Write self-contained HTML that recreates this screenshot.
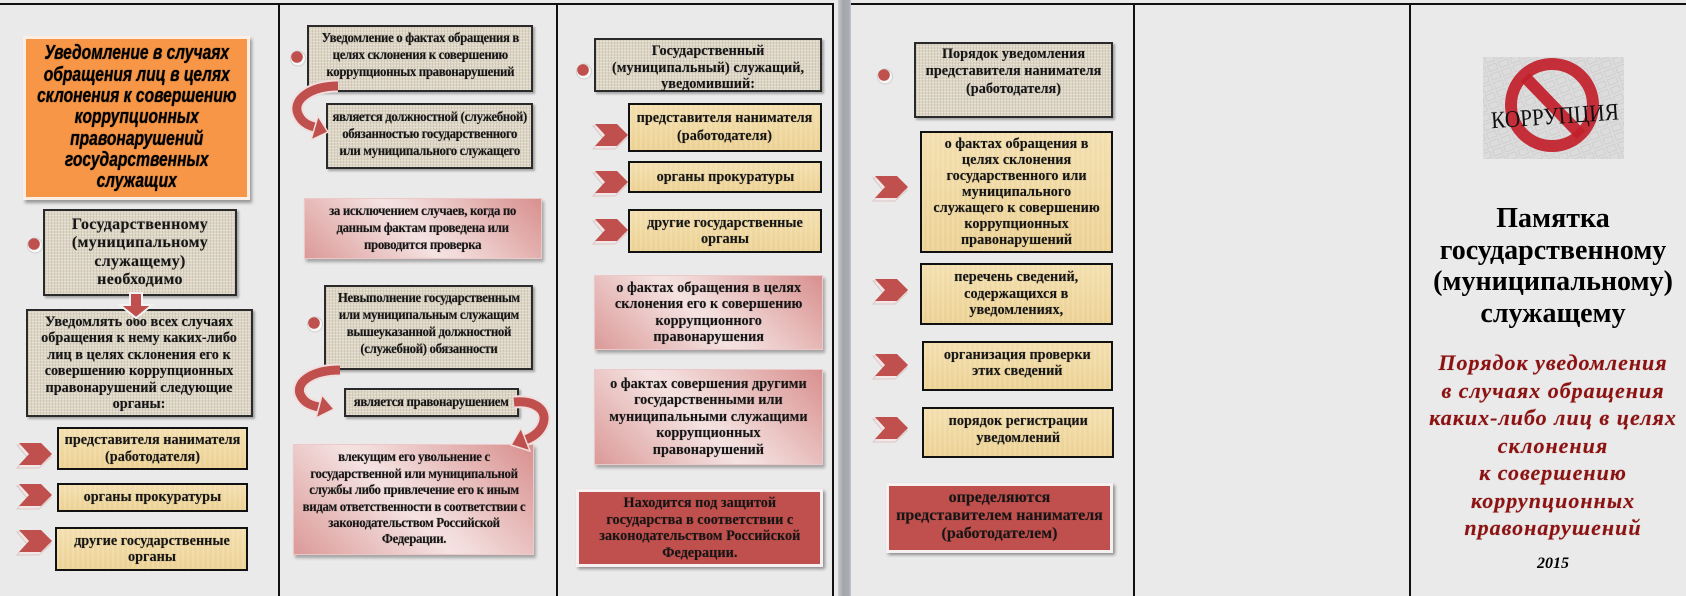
<!DOCTYPE html>
<html><head><meta charset="utf-8">
<style>
*{margin:0;padding:0}
body{width:1686px;height:596px;background:#eaeaea;position:relative;overflow:hidden;font-family:"Liberation Serif",serif}
.ln{position:absolute;background:#111}
.b{position:absolute;display:flex;align-items:center;justify-content:center;text-align:center;box-sizing:border-box;font-family:"Liberation Serif",serif;font-weight:bold;color:#151515;white-space:nowrap;text-shadow:0 0 1px rgba(0,0,0,.35)}
.t{display:inline-block}
.beige{background-color:#ddd5c5;background-image:repeating-linear-gradient(90deg,rgba(120,100,70,.13) 0 1px,transparent 1px 3px),repeating-linear-gradient(0deg,rgba(255,255,255,.28) 0 1px,transparent 1px 3px);border:2px solid #2a2a2a;box-shadow:2px 2px 2px rgba(0,0,0,.3)}
.yel{background-image:repeating-linear-gradient(90deg,rgba(255,255,255,.13) 0 2px,transparent 2px 5px),linear-gradient(180deg,#f3dfae,#ecd193);border:2px solid #111}
.pink{background:linear-gradient(225deg,#d8908e 0%,#f2dcdb 48%,#f4e2e1 55%,#db9a98 100%);border:1px solid #ecc9c8;box-shadow:2px 3px 3px rgba(0,0,0,.3)}
.red{background:#c0504d;border:3px solid #f6f0f0;box-shadow:2px 2px 3px rgba(0,0,0,.4)}
.s15{font-size:15px;letter-spacing:0;line-height:16.5px}
.s15 .t{transform:scaleX(.95)}
.c14{font-size:14px;letter-spacing:-.4px;line-height:17px}
.c14 .t{transform:scaleX(.92)}
</style></head><body>

<!-- frame lines -->
<div class="ln" style="left:0;top:3px;width:834px;height:2px"></div>
<div class="ln" style="left:851px;top:3px;width:835px;height:2px"></div>
<div class="ln" style="left:278px;top:3px;width:2px;height:593px"></div>
<div class="ln" style="left:556px;top:3px;width:2px;height:593px"></div>
<div class="ln" style="left:832px;top:3px;width:2px;height:593px"></div>
<div class="ln" style="left:1133px;top:3px;width:2px;height:593px"></div>
<div class="ln" style="left:1409px;top:3px;width:2px;height:593px"></div>
<div style="position:absolute;left:838px;top:0;width:13px;height:596px;background:linear-gradient(90deg,#c8cbcf,#a3a7ab 40%,#a9adb1 85%,#c4c7cb)"></div>

<!-- Column 1 -->
<div class="b" style="left:23px;top:36px;width:227px;height:164px;background:#f79646;border:3px solid #fbeee4;box-shadow:2px 3px 3px rgba(0,0,0,.35);font-family:'Liberation Sans',sans-serif;font-style:italic;font-weight:bold;font-size:20px;line-height:21.3px;color:#000;text-shadow:0 0 1px #000">
<div style="transform:scaleX(.78)">Уведомление в случаях<br>обращения лиц в целях<br>склонения к совершению<br>коррупционных<br>правонарушений<br>государственных<br>служащих</div></div>

<div class="b beige" style="left:43px;top:209px;width:194px;height:87px;font-size:16px;letter-spacing:.3px;line-height:18.5px">Государственному<br>(муниципальному<br>служащему)<br>необходимо</div>

<div class="b beige s15" style="left:26px;top:309px;width:227px;height:108px"><span class="t">Уведомлять обо всех случаях<br>обращения к нему каких-либо<br>лиц в целях склонения его к<br>совершению коррупционных<br>правонарушений следующие<br>органы:</span></div>

<div class="b yel s15" style="left:57px;top:427px;width:191px;height:43px"><span class="t">представителя нанимателя<br>(работодателя)</span></div>
<div class="b yel s15" style="left:57px;top:483px;width:191px;height:29px"><span class="t">органы прокуратуры</span></div>
<div class="b yel s15" style="left:55px;top:527px;width:193px;height:44px"><span class="t">другие государственные<br>органы</span></div>

<!-- Column 2 -->
<div class="b beige c14" style="left:307px;top:25px;width:226px;height:67px;padding-bottom:7px"><span class="t">Уведомление о фактах обращения в<br>целях склонения к совершению<br>коррупционных правонарушений</span></div>
<div class="b beige c14" style="left:326px;top:103px;width:207px;height:66px;padding-bottom:3px"><span class="t">является должностной (служебной)<br>обязанностью государственного<br>или муниципального служащего</span></div>
<div class="b pink c14" style="left:304px;top:198px;width:238px;height:61px"><span class="t">за исключением случаев, когда по<br>данным фактам проведена или<br>проводится проверка</span></div>
<div class="b beige c14" style="left:324px;top:285px;width:209px;height:85px;padding-bottom:8px"><span class="t">Невыполнение государственным<br>или муниципальным служащим<br>вышеуказанной должностной<br>(служебной) обязанности</span></div>
<div class="b beige c14" style="left:344px;top:388px;width:175px;height:29px"><span class="t">является правонарушением</span></div>
<div class="b pink c14" style="left:293px;top:444px;width:241px;height:111px;line-height:16.4px"><span class="t">влекущим его увольнение с<br>государственной или муниципальной<br>службы либо привлечение его к иным<br>видам ответственности в соответствии с<br>законодательством Российской<br>Федерации.</span></div>

<!-- Column 3 -->
<div class="b beige s15" style="left:594px;top:38px;width:228px;height:54px;padding-top:6px"><span class="t">Государственный<br>(муниципальный) служащий,<br>уведомивший:</span></div>
<div class="b yel s15" style="left:628px;top:103px;width:194px;height:49px;line-height:17.5px"><span class="t">представителя нанимателя<br>(работодателя)</span></div>
<div class="b yel s15" style="left:628px;top:161px;width:194px;height:32px"><span class="t">органы прокуратуры</span></div>
<div class="b yel s15" style="left:628px;top:209px;width:194px;height:44px"><span class="t">другие государственные<br>органы</span></div>
<div class="b pink s15" style="left:594px;top:275px;width:229px;height:75px"><span class="t">о фактах обращения в целях<br>склонения его к совершению<br>коррупционного<br>правонарушения</span></div>
<div class="b pink s15" style="left:594px;top:369px;width:229px;height:96px"><span class="t">о фактах совершения другими<br>государственными или<br>муниципальными служащими<br>коррупционных<br>правонарушений</span></div>
<div class="b red s15" style="left:576px;top:489px;width:247px;height:78px"><span class="t">Находится под защитой<br>государства в соответствии с<br>законодательством Российской<br>Федерации.</span></div>

<!-- Column 4 -->
<div class="b beige s15" style="left:914px;top:42px;width:199px;height:76px;line-height:17.5px;padding-bottom:16px"><span class="t">Порядок уведомления<br>представителя нанимателя<br>(работодателя)</span></div>
<div class="b yel s15" style="left:920px;top:131px;width:193px;height:122px;line-height:16px"><span class="t">о фактах обращения в<br>целях склонения<br>государственного или<br>муниципального<br>служащего к совершению<br>коррупционных<br>правонарушений</span></div>
<div class="b yel s15" style="left:920px;top:263px;width:193px;height:62px"><span class="t">перечень сведений,<br>содержащихся в<br>уведомлениях,</span></div>
<div class="b yel s15" style="left:922px;top:341px;width:191px;height:50px;padding-bottom:6px"><span class="t">организация проверки<br>этих сведений</span></div>
<div class="b yel s15" style="left:922px;top:407px;width:192px;height:51px;padding-bottom:6px"><span class="t">порядок регистрации<br>уведомлений</span></div>
<div class="b red" style="left:886px;top:483px;width:227px;height:70px;font-size:16px;letter-spacing:0;line-height:18px;padding-bottom:4px">определяются<br>представителем нанимателя<br>(работодателем)</div>

<!-- Column 6 (title) -->
<div style="position:absolute;left:1420px;top:203px;width:266px;text-align:center;font-family:'Liberation Serif',serif;font-weight:bold;font-size:28px;line-height:31.5px;color:#000;white-space:nowrap">Памятка<br>государственному<br>(муниципальному)<br>служащему</div>
<div style="position:absolute;left:1420px;top:349px;width:266px;text-align:center;font-family:'Liberation Serif',serif;font-weight:bold;font-style:italic;font-size:22px;letter-spacing:1px;line-height:27.5px;color:#8c1212;white-space:nowrap;text-shadow:0 0 1px rgba(120,0,0,.4)">Порядок уведомления<br>в случаях обращения<br>каких-либо лиц в целях<br>склонения<br>к совершению<br>коррупционных<br>правонарушений</div>
<div style="position:absolute;left:1420px;top:555px;width:266px;text-align:center;font-family:'Liberation Serif',serif;font-weight:bold;font-style:italic;font-size:16px;line-height:18px;color:#000">2015</div>

<!-- image -->
<svg style="position:absolute;left:1483px;top:57px" width="141" height="102" viewBox="0 0 141 102">
<defs>
<pattern id="pp" width="12" height="9" patternUnits="userSpaceOnUse" patternTransform="rotate(-20)">
<rect width="12" height="9" fill="#d6d6d6"/><rect x="1" y="1" width="9" height="6" fill="none" stroke="#bdbdbd" stroke-width="1"/>
</pattern></defs>
<rect width="141" height="102" fill="url(#pp)"/>
<rect width="141" height="102" fill="#e4e4e4" opacity=".45"/>
<circle cx="69" cy="48" r="41" fill="none" stroke="#c21f2a" stroke-width="12" opacity=".92"/>
<line x1="42" y1="20" x2="98" y2="78" stroke="#c21f2a" stroke-width="12" opacity=".92"/>
<text x="8" y="67" font-family="Liberation Serif, serif" font-size="24" fill="#111" textLength="128" lengthAdjust="spacingAndGlyphs" transform="rotate(-4 70 60)">КОРРУПЦИЯ</text>
</svg>

<!-- overlay: bullets, chevrons, arrows -->
<svg style="position:absolute;left:0;top:0" width="1686" height="596" viewBox="0 0 1686 596">
<defs>
<g id="bul"><circle cx="1" cy="1.5" r="7.5" fill="#f7f7f7" stroke="#cfcfcf" stroke-width="1"/><circle cx="0" cy="0" r="5.8" fill="#c0504d"/></g>
<g id="chev"><polygon points="-2,-9 20,-9 32,3 20,14 -2,14 8,3" fill="#f4e6e6" stroke="#d9c8c8" stroke-width="1"/><polygon points="0,-11 22,-11 33,0 22,11 0,11 10,0" fill="#c0504d"/></g>
</defs>
<use href="#bul" x="34" y="244"/>
<use href="#bul" x="297" y="57"/>
<use href="#bul" x="314" y="323"/>
<use href="#bul" x="583" y="70"/>
<use href="#bul" x="884" y="75"/>

<use href="#chev" x="19" y="454"/>
<use href="#chev" x="19" y="495"/>
<use href="#chev" x="19" y="541"/>
<use href="#chev" x="595" y="135"/>
<use href="#chev" x="595" y="182"/>
<use href="#chev" x="595" y="230"/>
<use href="#chev" x="875" y="187"/>
<use href="#chev" x="875" y="290"/>
<use href="#chev" x="875" y="365"/>
<use href="#chev" x="875" y="428"/>

<!-- down arrow col1 -->
<polygon points="130,293 142,293 142,305 152,305 136,318 120,305 130,305" fill="#c0504d" stroke="#f3f3f3" stroke-width="2"/>

<!-- curved arrow 1 -->
<path d="M338,86 C310,86 292,100 298,114 C301,121 306,125 315,127" fill="none" stroke="#f1dede" stroke-width="13"/>
<path d="M338,86 C310,86 292,100 298,114 C301,121 306,125 315,127" fill="none" stroke="#c0504d" stroke-width="9"/>
<polygon points="318,116 328,132 311,140" fill="#c0504d" stroke="#f1dede" stroke-width="1.5"/>

<!-- curved arrow 2 -->
<path d="M340,370 C312,370 296,382 300,394 C303,401 308,405 319,407" fill="none" stroke="#f1dede" stroke-width="13"/>
<path d="M340,370 C312,370 296,382 300,394 C303,401 308,405 319,407" fill="none" stroke="#c0504d" stroke-width="9"/>
<polygon points="322,395 334,409 316,418" fill="#c0504d" stroke="#f1dede" stroke-width="1.5"/>

<!-- curved arrow 3 -->
<path d="M514,402 C535,400 548,410 543,424 C540,432 533,437 525,440" fill="none" stroke="#f1dede" stroke-width="13"/>
<path d="M514,402 C535,400 548,410 543,424 C540,432 533,437 525,440" fill="none" stroke="#c0504d" stroke-width="9"/>
<polygon points="521,428 530,451 511,445" fill="#c0504d" stroke="#f1dede" stroke-width="1.5"/>
</svg>

</body></html>
